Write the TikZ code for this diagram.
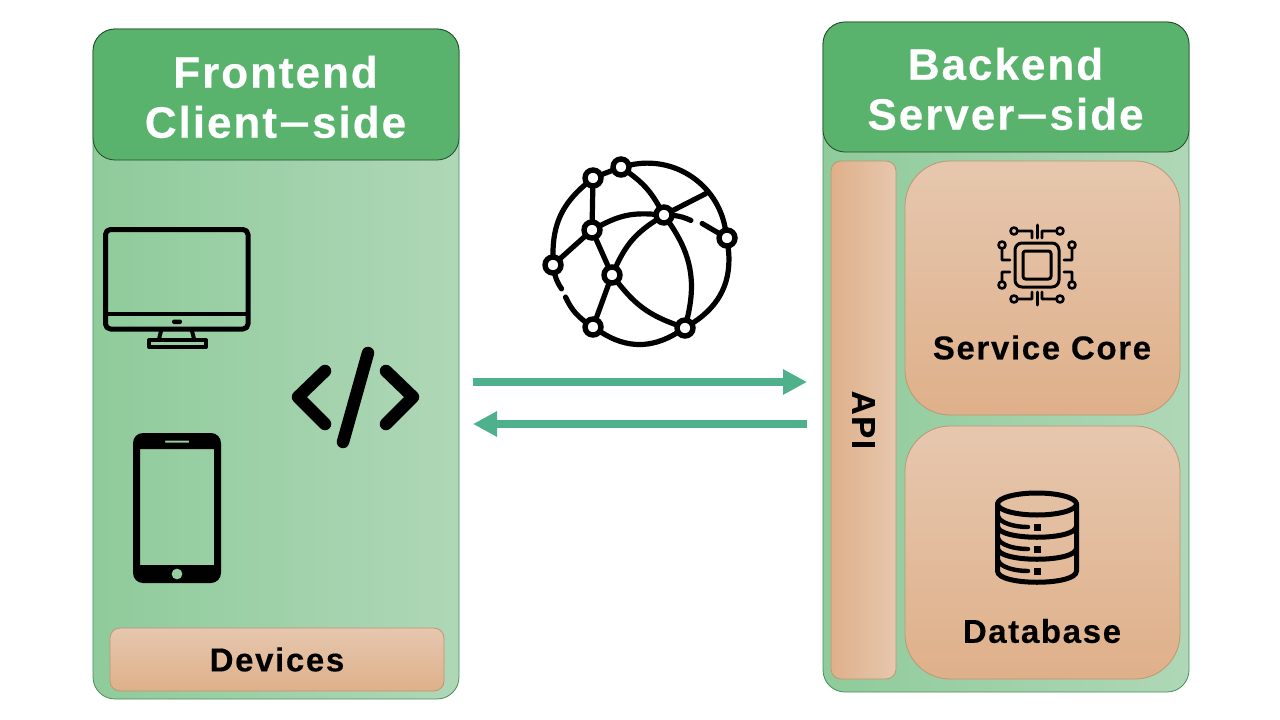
\documentclass[tikz,border=0pt]{standalone}
\usepackage{fontspec}
\setmainfont{Liberation Sans}
\newfontfamily\titlefont[LetterSpace=4.5,FakeBold=0.4]{Liberation Sans Bold}
\newfontfamily\labelfont[LetterSpace=5,FakeBold=0.3]{Liberation Sans Bold}
\usetikzlibrary{arrows.meta}
\definecolor{headgreen}{HTML}{59B36D}
\definecolor{panelleft}{HTML}{8FCB9B}
\definecolor{panelright}{HTML}{AFD7B7}
\definecolor{boxlight}{HTML}{E6C7AE}
\definecolor{boxdark}{HTML}{DFB08A}
\definecolor{flowgreen}{HTML}{4FB08C}
\newcommand{\widedash}{\raisebox{4pt}{\scalebox{2.4}[0.8]{-}}}
\tikzstyle{panel} = [draw=headgreen!80!black, line width=0.8pt, left color=panelleft, right color=panelright,
    rectangle, rounded corners=22pt, anchor=north west, outer sep=0pt, minimum width=366pt, minimum height=670pt]
\tikzstyle{header} = [draw=black!60!headgreen, line width=0.8pt, fill=headgreen,
    rectangle, rounded corners=22pt, anchor=north west, outer sep=0pt, minimum width=366pt]
\tikzstyle{headtext} = [text=white, align=center, inner sep=0pt, font=\titlefont\fontsize{44}{50}\selectfont]
\tikzstyle{partbox} = [draw=boxdark!85!black, line width=0.8pt, rectangle, anchor=north west, outer sep=0pt, inner sep=0pt]
\tikzstyle{partdown} = [partbox, top color=boxlight, bottom color=boxdark]
\tikzstyle{partacross} = [partbox, left color=boxdark, right color=boxlight]
\tikzstyle{partlabel} = [font=\labelfont\fontsize{33}{36}\selectfont, text=black, inner sep=0pt]
\tikzstyle{flow} = [draw=flowgreen, line width=8pt, -{Triangle[length=24pt,width=24pt]}]
\tikzstyle{icon} = [draw=black, line join=round, line cap=round]
\tikzstyle{hub} = [draw=black, fill=white, line width=5.4pt, circle, inner sep=0pt, minimum size=16pt]
\tikzstyle{link} = [icon, line width=5.2pt, shorten >=-1pt, shorten <=-1pt]
\begin{document}
\begin{tikzpicture}[x=1pt,y=-1pt]
    \useasboundingbox (0,0) rectangle (1280,720);
    % frontend
    \node[panel] (frontpanel) at (93,29) {};
    \node[header, minimum height=131pt] (fronthead) at (93,29) {};
    \node[headtext] (fronttext) at (275.5,97) {Frontend\\Client\widedash side};
    \node[partdown, minimum width=334pt, minimum height=63pt, rounded corners=10pt,
        partlabel] (devices) at (110,628) {\raisebox{-2pt}{Devices}};
    % backend
    \node[panel] (backpanel) at (823,22) {};
    \node[header, minimum height=130pt] (backhead) at (823,22) {};
    \node[headtext] (backtext) at (1005.5,89) {Backend\\Server\widedash side};
    \node[partacross, minimum width=65pt, minimum height=518pt,
        rounded corners=10pt, partlabel] (api) at (831,161) {\rotatebox{-90}{API}};
    \node[partdown, minimum width=275pt, minimum height=254pt, rounded corners=45pt] (core) at (905,161) {};
    \node[partdown, minimum width=275pt, minimum height=253pt, rounded corners=45pt] (database) at (905,426) {};
    \node[partlabel] (corelabel) at (1042,347.5) {Service Core};
    \node[partlabel] (databaselabel) at (1042,631) {Database};
    % flows
    \coordinate (frontout) at (473,382);
    \coordinate (backin) at (807,382);
    \coordinate (backout) at (807,424);
    \coordinate (frontin) at (473,424);
    \draw[flow] (frontout) -- (backin);
    \draw[flow] (backout) -- (frontin);
    % monitor
    \draw[icon, line width=5pt] (105.5,229.5) [rounded corners=5pt] rectangle (248,329);
    \draw[icon, line width=4.6pt] (105.5,314) -- (248,314);
    \fill[black, rounded corners=2pt] (172,319.5) rectangle (182,324);
    \draw[icon, line width=4pt] (161,331) -- (159,339) (192,331) -- (194,339);
    \draw[icon, line width=4pt] (149,340) rectangle (206,347);
    % phone
    \fill[black, even odd rule] [rounded corners=10pt] (133,433) rectangle (221,583)
        [sharp corners] (140,449) rectangle (214,565) (165,440.5) rectangle (189,442.5)
        (177,574) circle (5.5pt);
    % code
    \draw[icon, line width=12.5pt] (325,371) -- (298,397) -- (325,424);
    \draw[icon, line width=12.5pt] (386,371) -- (413,397) -- (386,424);
    \draw[icon, line width=12.5pt] (368,353) -- (343,442);
    % globe
    \node[hub] (hubtop) at (621,167) {};
    \node[hub] (hubleft) at (593,178) {};
    \node[hub] (hubmid) at (592,230) {};
    \node[hub] (hubcentre) at (664,215) {};
    \node[hub] (hubright) at (727,238) {};
    \node[hub] (hubedge) at (553,265) {};
    \node[hub] (hublow) at (612,275) {};
    \node[hub] (hubsouth) at (593,327) {};
    \node[hub] (hubeast) at (685,328) {};
    \coordinate (ridge) at (705,194);
    \coordinate (stubleft) at (561,288);
    \coordinate (stubsouth) at (566,298);
    \coordinate (stubcentre) at (690,220);
    \coordinate (stubright) at (703,224);
    \draw[link] (hubtop) -- (hubleft);
    \draw[link] (hubtop) to[bend left=46] (hubright);
    \draw[link] (hubleft) to[bend right=25] (hubedge);
    \draw[link] (hubleft) -- (hubmid);
    \draw[link] (hubmid) -- (hubedge);
    \draw[link] (hubmid) to[bend left=16] (hubcentre);
    \draw[link] (hubtop) to[bend left=12] (hubcentre);
    \draw[link] (hubcentre) -- (ridge);
    \draw[link] (hubcentre) to[bend left=8] (stubcentre);
    \draw[link] (stubright) -- (hubright);
    \draw[link] (hubmid) -- (hublow);
    \draw[link] (hubcentre) to[bend right=16] (hublow);
    \draw[link] (hublow) -- (hubsouth);
    \draw[link] (hublow) to[bend right=16] (hubeast);
    \draw[link] (hubcentre) to[bend left=24] (hubeast);
    \draw[link] (hubedge) to[bend right=8] (stubleft);
    \draw[link] (stubsouth) to[bend right=13] (hubsouth);
    \draw[link] (hubsouth) to[bend right=32] (hubeast);
    \draw[link] (hubeast) to[bend right=32] (hubright);
    % chip
    \draw[icon, line width=3pt] (1015,243) [rounded corners=7pt] rectangle (1059,287);
    \draw[icon, line width=3pt] (1023,251) [rounded corners=2.5pt] rectangle (1051,279);
    \draw[icon, line width=3pt] (1037,225) -- (1037,238) (1037,292) -- (1037,305);
    \draw[icon, line width=2.6pt] (1032,238) -- (1032,231) -- (1018,231) (1014,231) circle (3.5pt);
    \draw[icon, line width=2.6pt] (1042,238) -- (1042,231) -- (1056,231) (1060,231) circle (3.5pt);
    \draw[icon, line width=2.6pt] (1032,292) -- (1032,299) -- (1018,299) (1014,299) circle (3.5pt);
    \draw[icon, line width=2.6pt] (1042,292) -- (1042,299) -- (1056,299) (1060,299) circle (3.5pt);
    \draw[icon, line width=2.6pt] (1010,260) -- (1002,260) -- (1002,249) (1002,245) circle (3.5pt);
    \draw[icon, line width=2.6pt] (1010,272) -- (1002,272) -- (1002,281) (1002,285) circle (3.5pt);
    \draw[icon, line width=2.6pt] (1064,260) -- (1072,260) -- (1072,249) (1072,245) circle (3.5pt);
    \draw[icon, line width=2.6pt] (1064,272) -- (1072,272) -- (1072,281) (1072,285) circle (3.5pt);
    % database
    \draw[icon, line width=5pt] (1037,504) ellipse (39.5pt and 11pt);
    \draw[icon, line width=5pt] (997.5,504) -- (997.5,571) .. controls (997.5,586) and (1076.5,586) .. (1076.5,571) -- (1076.5,504);
    \draw[icon, line width=5pt] (997.5,526) .. controls (997.5,541) and (1076.5,541) .. (1076.5,526);
    \draw[icon, line width=5pt] (997.5,548) .. controls (997.5,563) and (1076.5,563) .. (1076.5,548);
    \draw[icon, line width=4.4pt] (998,516) .. controls (1000,523) and (1014,527) .. (1028,527);
    \draw[icon, line width=4.4pt] (998,538) .. controls (1000,545) and (1014,549) .. (1028,549);
    \draw[icon, line width=4.4pt] (998,560) .. controls (1000,567) and (1014,571) .. (1028,571);
    \fill[black] (1034,524) rectangle (1040.5,530.5);
    \fill[black] (1034,546) rectangle (1040.5,552.5);
    \fill[black] (1034,568) rectangle (1040.5,574.5);
\end{tikzpicture}
\end{document}
